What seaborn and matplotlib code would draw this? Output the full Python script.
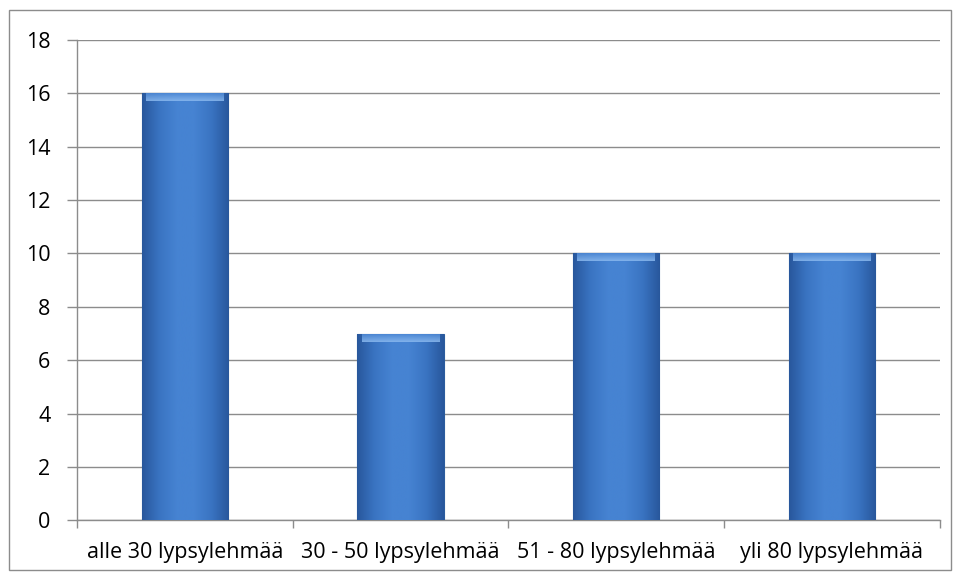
import numpy as np
import pandas as pd
import matplotlib.pyplot as plt
import seaborn as sns
from matplotlib.colors import LinearSegmentedColormap
from matplotlib.patches import Rectangle

categories = ['alle 30 lypsylehmää', '30 - 50 lypsylehmää', '51 - 80 lypsylehmää', 'yli 80 lypsylehmää']
counts = [16, 7, 10, 10]
y_ticks = list(range(0, 19, 2))

df = pd.DataFrame({'kategoria': categories, 'lkm': counts})

sns.set_style('white')
plt.rcParams['font.family'] = ['Open Sans', 'DejaVu Sans']

fig = plt.figure(figsize=(9.61, 5.8), dpi=100)
ax = fig.add_axes([0.080, 0.103, 0.898, 0.828])

ax = sns.barplot(data=df, x='kategoria', y='lkm', color='#3F7CCB', width=0.4,
                 edgecolor='#2B5C9E', linewidth=0.8, ax=ax, zorder=3)

# bevel-ish gradient on each bar
cmap = LinearSegmentedColormap.from_list('bev', ['#28579C', '#3A74C2', '#4683D2', '#4683D2', '#3A74C2', '#28579C'])
grad = np.linspace(0, 1, 256).reshape(1, -1)
for p in ax.patches:
    x0, w, h = p.get_x(), p.get_width(), p.get_height()
    im = ax.imshow(grad, cmap=cmap, aspect='auto', extent=[x0, x0 + w, 0, h], zorder=4)
    im.set_clip_path(p)
    # lighter top cap
    top = ax.imshow(np.linspace(0, 1, 64).reshape(-1, 1),
                    cmap=LinearSegmentedColormap.from_list('cap', ['#4683D2', '#8DBBF0']),
                    aspect='auto', extent=[x0 + 0.02, x0 + w - 0.02, h - 0.3, h], zorder=5, alpha=0.85)
    top.set_clip_path(p)

ax.set_xlim(-0.5, 3.5)
ax.set_ylim(0, 18)
ax.set_yticks(y_ticks)
ax.yaxis.grid(True, color='#8C8C8C', linewidth=1)
ax.set_axisbelow(True)
ax.set_xlabel('')
ax.set_ylabel('')

for s in ['top', 'right']:
    ax.spines[s].set_visible(False)
for s in ['left', 'bottom']:
    ax.spines[s].set_color('#8C8C8C')
    ax.spines[s].set_linewidth(1)

ax.tick_params(axis='y', length=7, color='#8C8C8C', width=1, labelsize=15.5, labelcolor='black', pad=12, left=True)
ax.set_xticks(np.arange(-0.5, 3.6, 1), minor=True)
ax.tick_params(axis='x', which='minor', length=6, color='#8C8C8C', width=1, bottom=True)
ax.tick_params(axis='x', which='major', length=0, labelsize=15.5, labelcolor='black', pad=16)

fig.patches.append(Rectangle((0.009, 0.017), 0.981, 0.966, transform=fig.transFigure,
                             fill=False, edgecolor='#8C8C8C', linewidth=1))

fig.savefig('out.png', dpi=100)
